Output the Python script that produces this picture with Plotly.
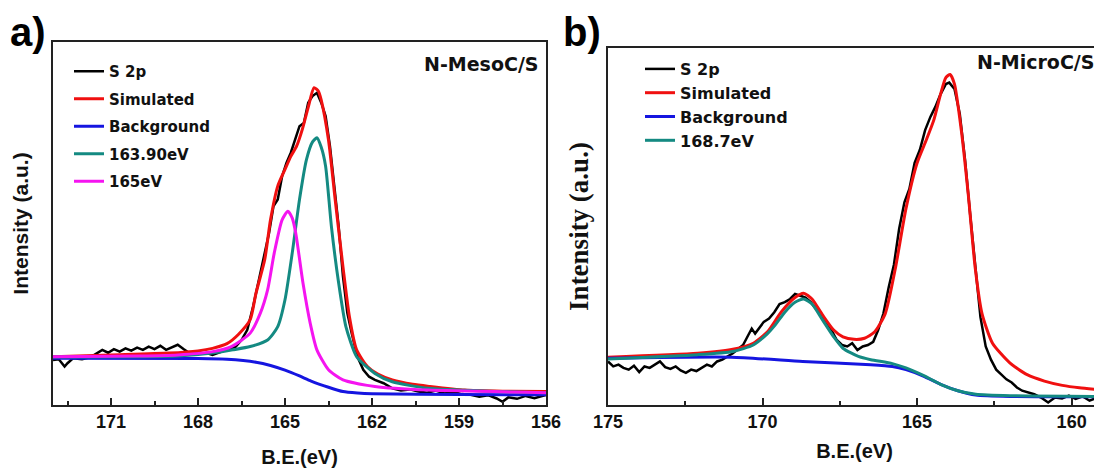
import plotly.graph_objects as go

# ---------------- Panel a: N-MesoC/S ----------------
a_s2p_x = [173.0, 172.8, 172.6, 172.5, 172.3, 172.0, 171.7, 171.5, 171.3, 171.1, 170.9, 170.7, 170.5,
           170.3, 170.1, 169.9, 169.7, 169.5, 169.3, 169.1, 168.9, 168.7, 168.5, 168.3, 168.1, 167.9,
           167.7, 167.5, 167.3, 167.1, 166.9, 166.7, 166.5, 166.3, 166.1, 165.9, 165.7, 165.55, 165.4,
           165.25, 165.1, 164.95, 164.8, 164.65, 164.5, 164.35, 164.2, 164.05, 163.9, 163.75, 163.6,
           163.45, 163.3, 163.15, 163.0, 162.85, 162.7, 162.5, 162.3, 162.1, 161.9, 161.6, 161.3, 161.0,
           160.7, 160.4, 160.1, 159.8, 159.5, 159.2, 158.9, 158.6, 158.3, 158.0, 157.7, 157.5, 157.3,
           157.0, 156.7, 156.4, 156.0]
a_s2p_y = [12.4, 12.6, 10.6, 11.5, 12.9, 12.6, 13.2, 14.3, 15.2, 14.4, 15.4, 14.7, 15.6,
           15.0, 15.8, 15.2, 16.1, 15.4, 16.3, 15.2, 15.9, 16.6, 15.4, 14.3, 14.4, 14.1,
           14.3, 13.8, 14.4, 15.0, 15.4, 16.1, 17.9, 20.7, 27.1, 34.5, 41.9, 47.4, 54.7,
           56.6, 63.0, 66.7, 69.5, 73.1, 76.8, 77.7, 83.3, 85.1, 86.0, 83.3, 79.6,
           71.3, 60.3, 49.2, 35.4, 25.3, 19.8, 13.3, 9.7, 7.8, 6.9, 6.0, 4.6, 4.0,
           4.3, 3.7, 3.4, 4.0, 3.2, 3.6, 3.0, 2.8, 2.3, 2.7, 1.8, 0.9, 2.1,
           1.7, 2.5, 1.9, 2.8]

a_sim_x = [173.0, 171.0, 169.0, 168.0, 167.5, 167.0, 166.6, 166.2, 166.0, 165.7, 165.5, 165.25, 165.0,
           164.8, 164.6, 164.4, 164.2, 164.0, 163.85, 163.75, 163.5, 163.27, 163.0, 162.78, 162.53,
           162.16, 161.8, 161.3, 160.6, 160.0, 158.8, 157.5, 156.0]
a_sim_y = [13.3, 13.8, 14.3, 14.9, 15.6, 16.9, 19.5, 23.5, 30.8, 40.0, 51.0, 60.3, 64.9,
           68.5, 71.3, 76.0, 82.0, 87.4, 86.5, 84.0, 73.0, 56.6, 38.0, 24.4, 15.2,
           10.6, 8.5, 6.9, 5.7, 5.1, 4.1, 3.8, 3.7]

a_bg_x = [173.0, 168.0, 167.0, 166.0, 165.5, 165.0, 164.5, 164.1, 163.5, 163.0, 162.5, 162.0, 159.0, 156.0]
a_bg_y = [12.9, 12.8, 12.6, 11.8, 10.9, 9.6, 8.0, 6.6, 4.9, 3.7, 3.3, 3.1, 2.9, 2.8]

a_p1_x = [173.0, 170.0, 168.7, 167.5, 166.8, 166.2, 165.6, 165.25, 165.0, 164.75, 164.5, 164.26, 164.05,
          163.9, 163.75, 163.6, 163.4, 163.15, 162.9, 162.53, 161.9, 161.3, 160.07, 158.0, 156.0]
a_p1_y = [13.2, 13.3, 13.5, 14.3, 15.2, 16.1, 17.9, 21.6, 29.0, 41.9, 56.6, 67.6, 72.5,
          73.6, 71.0, 65.8, 49.2, 33.6, 21.6, 13.3, 8.7, 6.4, 4.6, 3.8, 3.4]

a_p2_x = [173.0, 170.0, 168.7, 167.5, 166.85, 166.2, 165.85, 165.6, 165.37, 165.1, 164.9, 164.75, 164.63,
          164.38, 164.13, 163.9, 163.5, 163.0, 161.9, 160.07, 156.0]
a_p2_y = [13.3, 13.5, 13.8, 14.7, 16.1, 19.8, 25.3, 31.7, 41.9, 51.0, 53.4, 51.5, 47.4,
          33.6, 22.5, 15.2, 9.7, 6.9, 5.1, 4.1, 3.4]

# ---------------- Panel b: N-MicroC/S ----------------
b_s2p_x = [175.0, 174.83, 174.66, 174.5, 174.33, 174.16, 173.99, 173.82, 173.65, 173.49, 173.32, 173.15,
           172.98, 172.81, 172.65, 172.48, 172.31, 172.14, 171.97, 171.8, 171.64, 171.47, 171.3, 171.13,
           170.96, 170.8, 170.63, 170.46, 170.35, 170.24, 170.12, 169.96, 169.79, 169.62, 169.45, 169.28,
           169.11, 168.95, 168.78, 168.61, 168.44, 168.27, 168.11, 167.94, 167.77, 167.6, 167.43, 167.26,
           167.1, 166.93, 166.76, 166.59, 166.42, 166.26, 166.09, 165.92, 165.75, 165.58, 165.41, 165.25,
           165.08, 164.91, 164.74, 164.57, 164.41, 164.24, 164.07, 163.96, 163.79, 163.62, 163.45, 163.28,
           163.12, 162.95, 162.78, 162.61, 162.44, 162.28, 162.11, 161.94, 161.77, 161.6, 161.43, 161.21,
           160.99, 160.76, 160.54, 160.31, 160.09, 159.87, 159.64, 159.42, 159.19, 159.02]
b_s2p_y = [12.2, 10.8, 11.3, 10.4, 9.9, 11.0, 9.2, 10.8, 10.4, 11.3, 12.2, 10.6,
           10.1, 10.8, 9.7, 9.0, 9.9, 9.5, 10.4, 11.3, 10.8, 12.2, 12.7, 13.6,
           14.5, 15.6, 16.8, 19.6, 21.4, 20.0, 21.4, 23.3, 24.2, 26.0, 28.3, 28.8,
           29.7, 31.1, 30.6, 30.1, 28.8, 26.9, 25.6, 23.3, 21.0, 18.2, 16.8, 16.4,
           17.3, 15.4, 16.4, 16.8, 17.7, 21.0, 25.6, 32.9, 39.3, 49.4, 56.8, 60.5,
           67.8, 71.5, 77.0, 80.7, 83.5, 87.1, 89.9, 90.3, 88.5, 81.6, 68.8, 53.1,
           38.4, 24.6, 16.4, 12.7, 9.9, 8.5, 7.2, 6.3, 4.9, 4.0, 3.5, 3.0,
           2.1, 0.7, 2.1, 1.8, 2.6, 1.7, 2.4, 1.2, 2.0, 1.8]

b_sim_x = [175.0, 172.1, 170.96, 170.3, 169.84, 169.4, 168.95, 168.67, 168.4, 168.05, 167.7, 167.4,
           167.04, 166.7, 166.37, 166.03, 165.7, 165.36, 165.0, 164.7, 164.46, 164.24, 164.07, 163.93,
           163.79, 163.57, 163.34, 163.12, 162.9, 162.56, 162.0, 161.44, 160.88, 160.3, 159.75, 159.0]
b_sim_y = [13.4, 14.5, 15.6, 17.3, 20.5, 26.0, 30.1, 31.3, 29.7, 25.1, 21.0, 19.1,
           18.4, 18.7, 20.5, 25.6, 38.4, 55.0, 67.8, 74.3, 79.8, 87.1, 91.7, 92.6,
           89.9, 77.0, 58.6, 38.4, 25.6, 17.3, 11.8, 8.5, 6.7, 5.5, 4.8, 4.2]

b_bg_x = [175.0, 171.0, 168.7, 166.5, 165.8, 165.36, 164.8, 164.24, 163.68, 163.1, 162.0, 159.0]
b_bg_y = [13.1, 13.4, 12.2, 11.3, 10.8, 9.9, 8.1, 5.8, 4.0, 2.8, 2.4, 2.3]

b_p1_x = [175.0, 172.1, 170.96, 170.3, 169.84, 169.6, 169.28, 168.95, 168.67, 168.4, 168.05, 167.7,
          167.4, 166.9, 166.5, 165.8, 165.36, 164.8, 164.24, 163.68, 163.1, 162.0, 159.0]
b_p1_y = [12.9, 14.1, 15.0, 16.8, 20.0, 22.3, 26.0, 28.8, 29.7, 28.3, 23.7, 19.1,
          15.9, 13.6, 12.7, 11.6, 10.4, 8.3, 5.8, 4.0, 3.0, 2.6, 2.4]

a_ticks = [171, 168, 165, 162, 159, 156]
b_ticks = [175, 170, 165, 160]

BLACK = "#000000"
RED = "#f01010"
BLUE = "#1515e0"
TEAL = "#148a82"
MAGENTA = "#f514f0"

fig = go.Figure()

def add(x, y, name, color, xa, ya, leg, width=3, spline=True):
    fig.add_trace(go.Scatter(
        x=x, y=y, name=name, mode="lines",
        line=dict(color=color, width=width, shape="spline" if spline else "linear", smoothing=0.6),
        xaxis=xa, yaxis=ya, legend=leg, legendgroup=name + leg))

add(a_s2p_x, a_s2p_y, "S 2p", BLACK, "x", "y", "legend", width=2.5, spline=False)
add(a_sim_x, a_sim_y, "Simulated", RED, "x", "y", "legend")
add(a_bg_x, a_bg_y, "Background", BLUE, "x", "y", "legend")
add(a_p1_x, a_p1_y, "163.90eV", TEAL, "x", "y", "legend")
add(a_p2_x, a_p2_y, "165eV", MAGENTA, "x", "y", "legend")

add(b_s2p_x, b_s2p_y, "S 2p", BLACK, "x2", "y2", "legend2", width=2.5, spline=False)
add(b_sim_x, b_sim_y, "Simulated", RED, "x2", "y2", "legend2")
add(b_bg_x, b_bg_y, "Background", BLUE, "x2", "y2", "legend2")
add(b_p1_x, b_p1_y, "168.7eV", TEAL, "x2", "y2", "legend2")

# page has an 8px body margin: figure is drawn at (8, 8)
OFF = 8
W, H = 1102 - OFF, 474 - OFF
def px(v): return (v - OFF) / W
def py(v): return 1 - (v - OFF) / H

SANS = "Liberation Sans, Arial"
WIDE = "DejaVu Sans, Verdana"
tickfont = dict(family=SANS, size=18, color="#111", weight="bold")
titlefont = dict(family=SANS, size=20, color="#111", weight="bold")

common_x = dict(showline=True, linecolor="#222", linewidth=1.6, mirror=True,
                ticks="inside", ticklen=7, tickwidth=1.5, tickcolor="#222",
                showgrid=False, zeroline=False, tickfont=tickfont, automargin=False)
common_y = dict(showline=True, linecolor="#222", linewidth=1.6, mirror=True,
                ticks="", showticklabels=False, showgrid=False, zeroline=False,
                range=[0, 100], automargin=False)

fig.update_layout(
    width=W, height=H,
    margin=dict(l=0, r=0, t=0, b=0, autoexpand=False),
    paper_bgcolor="white", plot_bgcolor="white",
    xaxis=dict(domain=[px(53), px(546)], range=[173, 156], tickvals=a_ticks,
               minor=dict(dtick=1.5, tick0=156, ticks="inside", ticklen=4, tickwidth=1.5, tickcolor="#222"),
               title=dict(text="B.E.(eV)", font=titlefont, standoff=19), anchor="y", **common_x),
    yaxis=dict(domain=[py(405), py(42)], anchor="x",
               title=dict(text="Intensity (a.u.)", font=dict(family=SANS, size=21, color="#111", weight="bold"),
                          standoff=17), **common_y),
    xaxis2=dict(domain=[px(608), px(1101)], range=[175, 159.05], tickvals=b_ticks,
                minor=dict(dtick=2.5, tick0=160, ticks="inside", ticklen=4, tickwidth=1.5, tickcolor="#222"),
                title=dict(text="B.E.(eV)", font=titlefont, standoff=13), anchor="y2", **common_x),
    yaxis2=dict(domain=[py(405), py(48)], anchor="x2",
                title=dict(text="Intensity (a.u.)",
                           font=dict(family="Liberation Serif, Times New Roman", size=27, color="#111", weight="bold"),
                           standoff=10), **common_y),
    legend=dict(x=px(69), y=py(55), xanchor="left", yanchor="top", bgcolor="rgba(0,0,0,0)",
                font=dict(family=WIDE, size=15, color="#111", weight="bold"),
                tracegroupgap=5),
    legend2=dict(x=px(640), y=py(52), xanchor="left", yanchor="top", bgcolor="rgba(0,0,0,0)",
                 font=dict(family=WIDE, size=16, color="#111", weight="bold"),
                 tracegroupgap=0),
    showlegend=True,
    annotations=[
        dict(text="N-MesoC/S", x=px(541), y=py(64), xref="paper", yref="paper", showarrow=False,
             xanchor="right", yanchor="middle",
             font=dict(family=WIDE, size=19, color="#111", weight="bold")),
        dict(text="N-MicroC/S", x=px(1096), y=py(62), xref="paper", yref="paper", showarrow=False,
             xanchor="right", yanchor="middle",
             font=dict(family=WIDE, size=19, color="#111", weight="bold")),
        dict(text="a)", x=px(8), y=1, xref="paper", yref="paper", showarrow=False,
             xanchor="left", yanchor="top",
             font=dict(family=SANS, size=40, color="#000", weight="bold")),
        dict(text="b)", x=px(561), y=1, xref="paper", yref="paper", showarrow=False,
             xanchor="left", yanchor="top",
             font=dict(family=SANS, size=40, color="#000", weight="bold")),
    ],
)

fig.write_html("out.html")
